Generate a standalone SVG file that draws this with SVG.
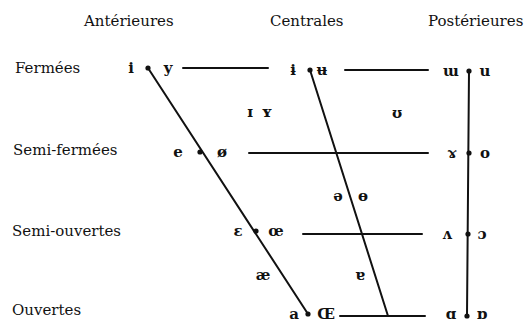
<svg xmlns="http://www.w3.org/2000/svg" width="530" height="324" viewBox="0 0 530 324">
<style>
.lbl{font-family:"DejaVu Serif","Liberation Serif",serif;font-size:15px;fill:#111}
.v{font-family:"DejaVu Serif","Liberation Serif",serif;font-size:15px;font-weight:bold;fill:#111;text-anchor:middle}
.ln{stroke:#111;stroke-width:2;fill:none;stroke-linecap:round}
.dot{fill:#111}
</style>
<rect width="530" height="324" fill="#fff"/>
<g id="headers">
<text class="lbl" x="84" y="26">Antérieures</text>
<text class="lbl" x="270" y="26">Centrales</text>
<text class="lbl" x="428" y="26">Postérieures</text>
</g>
<g id="rows">
<text class="lbl" x="15" y="73">Fermées</text>
<text class="lbl" x="13" y="155">Semi-fermées</text>
<text class="lbl" x="12" y="236">Semi-ouvertes</text>
<text class="lbl" x="12" y="315">Ouvertes</text>
</g>
<g id="connectors">
<line class="ln" x1="183" y1="68" x2="268" y2="68"/>
<line class="ln" x1="345" y1="70" x2="428" y2="70"/>
<line class="ln" x1="249" y1="153" x2="428" y2="153"/>
<line class="ln" x1="303" y1="234" x2="422" y2="234"/>
<line class="ln" x1="340" y1="316" x2="425" y2="316"/>
<line class="ln" x1="148" y1="68" x2="308" y2="314"/>
<line class="ln" x1="310" y1="70" x2="388" y2="316"/>
<line class="ln" x1="469" y1="71" x2="467" y2="316"/>
</g>
<g id="n-i-y"><text class="v" x="131" y="73">i</text><circle class="dot" cx="148" cy="68" r="2.6"/><text class="v" x="168" y="73">y</text></g>
<g id="n-ɨ-ʉ"><text class="v" x="293" y="75">ɨ</text><circle class="dot" cx="310" cy="70" r="2.6"/><text class="v" x="322" y="75">ʉ</text></g>
<g id="n-ɯ-u"><text class="v" x="451" y="76">ɯ</text><circle class="dot" cx="469" cy="71" r="2.6"/><text class="v" x="485" y="76">u</text></g>
<g id="n-ɪ-ʏ"><text class="v" x="250" y="117">ɪ</text><text class="v" x="267" y="117">ʏ</text></g>
<g id="n-ʊ"><text class="v" x="397" y="118">ʊ</text></g>
<g id="n-e-ø"><text class="v" x="178" y="157">e</text><circle class="dot" cx="200" cy="152" r="2.6"/><text class="v" x="222" y="157">ø</text></g>
<g id="n-ɤ-o"><text class="v" x="452" y="158">ɤ</text><circle class="dot" cx="469" cy="153" r="2.6"/><text class="v" x="485" y="158">o</text></g>
<g id="n-ə-ɵ"><text class="v" x="338" y="201">ə</text><text class="v" x="363" y="201">ɵ</text></g>
<g id="n-ɛ-œ"><text class="v" x="238" y="236">ɛ</text><circle class="dot" cx="256" cy="231" r="2.6"/><text class="v" x="276" y="236">œ</text></g>
<g id="n-ʌ-ɔ"><text class="v" x="447" y="239">ʌ</text><circle class="dot" cx="468" cy="234" r="2.6"/><text class="v" x="482" y="239">ɔ</text></g>
<g id="n-æ"><text class="v" x="263" y="280">æ</text></g>
<g id="n-ɐ"><text class="v" x="360" y="280">ɐ</text></g>
<g id="n-a-Œ"><text class="v" x="294" y="319">a</text><circle class="dot" cx="308" cy="314" r="2.6"/><text class="v" x="326" y="319">Œ</text></g>
<g id="n-ɑ-ɒ"><text class="v" x="451" y="319">ɑ</text><circle class="dot" cx="467" cy="316" r="2.6"/><text class="v" x="482" y="319">ɒ</text></g>
</svg>
